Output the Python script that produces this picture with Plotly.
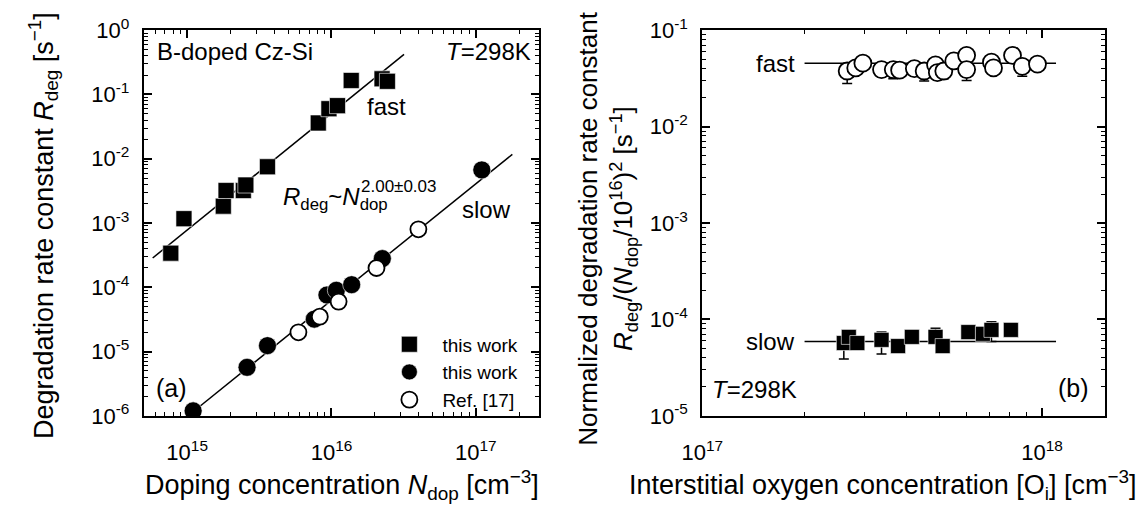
import numpy as np
import plotly.graph_objects as go

# ---- (a) degradation rate constant vs doping concentration ----
fast_ndop = [7.7e14, 9.5e14, 1.78e15, 1.86e15, 2.45e15, 2.55e15, 3.6e15,
             8.1e15, 9.6e15, 1.1e16, 1.37e16, 2.24e16, 2.44e16]
fast_rdeg = [3.4e-4, 1.17e-3, 1.83e-3, 3.2e-3, 3.2e-3, 3.9e-3, 7.5e-3,
             0.036, 0.060, 0.067, 0.165, 0.175, 0.160]

slow_ndop = [1.1e15, 2.6e15, 3.6e15, 7.6e15, 9.3e15, 1.08e16, 1.38e16, 2.25e16, 1.1e17]
slow_rdeg = [1.2e-6, 5.7e-6, 1.24e-5, 3.2e-5, 7.6e-5, 9.0e-5, 1.1e-4, 2.8e-4, 6.7e-3]

ref_ndop = [5.9e15, 8.3e15, 1.12e16, 2.05e16, 4.0e16]
ref_rdeg = [2.0e-5, 3.5e-5, 6.0e-5, 2.0e-4, 8.0e-4]

fast_fit_ndop = [5.77e14, 3.18e16]
fast_fit_rdeg = [2.86e-4, 0.42]
slow_fit_ndop = [1.1e15, 1.79e17]
slow_fit_rdeg = [1.16e-6, 1.17e-2]

# ---- (b) normalized rate constant vs interstitial oxygen ----
b_fast_oi = [2.67e17, 2.83e17, 2.97e17, 3.37e17, 3.65e17, 3.81e17, 4.21e17,
             4.50e17, 4.86e17, 4.92e17, 5.14e17, 5.50e17, 6.00e17, 6.00e17,
             7.10e17, 7.20e17, 8.19e17, 8.75e17, 9.70e17]
b_fast_val = [0.0377, 0.0406, 0.0455, 0.0390, 0.0390, 0.0385, 0.0400,
              0.0377, 0.0437, 0.0363, 0.0377, 0.0480, 0.0548, 0.0390,
              0.0465, 0.0406, 0.0548, 0.0422, 0.0445]
b_fast_low = [0.0279, 0.0406, 0.0455, 0.0390, 0.0313, 0.0385, 0.0400,
              0.0297, 0.0437, 0.0363, 0.0313, 0.0480, 0.0548, 0.0301,
              0.0465, 0.0406, 0.0548, 0.0332, 0.0445]
b_fast_high = [0.0377, 0.0406, 0.0455, 0.0390, 0.0448, 0.0385, 0.0400,
               0.0377, 0.0437, 0.0363, 0.0460, 0.0480, 0.0548, 0.0390,
               0.0465, 0.0406, 0.0548, 0.0422, 0.0445]

b_slow_oi = [2.61e17, 2.70e17, 2.86e17, 3.37e17, 3.77e17, 4.14e17,
             4.86e17, 5.10e17, 6.07e17, 6.70e17, 7.10e17, 8.10e17]
b_slow_val = [5.7e-5, 6.6e-5, 5.7e-5, 6.15e-5, 5.3e-5, 6.6e-5,
              6.6e-5, 5.3e-5, 7.4e-5, 7.1e-5, 7.8e-5, 7.8e-5]
b_slow_low = [3.9e-5, 6.6e-5, 5.7e-5, 4.4e-5, 5.3e-5, 6.6e-5,
              6.6e-5, 4.9e-5, 7.4e-5, 7.1e-5, 5.9e-5, 7.8e-5]
b_slow_high = [5.7e-5, 6.6e-5, 5.7e-5, 7.4e-5, 5.3e-5, 6.6e-5,
               8.1e-5, 5.3e-5, 7.4e-5, 7.1e-5, 9.5e-5, 7.8e-5]

b_fit_oi = [2.0e17, 1.1e18]
b_fast_level = [0.0455, 0.0455]
b_slow_level = [5.93e-5, 5.93e-5]

FONT = "Liberation Sans, Arial, sans-serif"
BLACK = "black"

fig = go.Figure()

# panel (a)
for fx, fy in ((fast_fit_ndop, fast_fit_rdeg), (slow_fit_ndop, slow_fit_rdeg)):
    fig.add_trace(go.Scatter(x=fx, y=fy, mode="lines", line=dict(color=BLACK, width=1.5),
                             showlegend=False, hoverinfo="skip", xaxis="x", yaxis="y"))
fig.add_trace(go.Scatter(x=fast_ndop, y=fast_rdeg, mode="markers", name="this work",
                         marker=dict(symbol="square", size=16, color=BLACK,
                                     line=dict(color="white", width=0.6)),
                         xaxis="x", yaxis="y"))
fig.add_trace(go.Scatter(x=slow_ndop, y=slow_rdeg, mode="markers", name="this work",
                         marker=dict(symbol="circle", size=18, color=BLACK,
                                     line=dict(color="white", width=0.6)),
                         xaxis="x", yaxis="y"))
fig.add_trace(go.Scatter(x=ref_ndop, y=ref_rdeg, mode="markers", name="Ref. [17]",
                         marker=dict(symbol="circle", size=16, color="white",
                                     line=dict(color=BLACK, width=1.8)),
                         xaxis="x", yaxis="y"))

# panel (b)
for lvl in (b_fast_level, b_slow_level):
    fig.add_trace(go.Scatter(x=b_fit_oi, y=lvl, mode="lines", line=dict(color=BLACK, width=1.5),
                             showlegend=False, hoverinfo="skip", xaxis="x2", yaxis="y2"))
fig.add_trace(go.Scatter(
    x=b_fast_oi, y=b_fast_val, mode="markers", showlegend=False,
    error_y=dict(type="data", symmetric=False,
                 array=list(np.array(b_fast_high) - np.array(b_fast_val)),
                 arrayminus=list(np.array(b_fast_val) - np.array(b_fast_low)),
                 color=BLACK, thickness=1.5, width=5),
    marker=dict(symbol="circle", size=17, color="white", line=dict(color=BLACK, width=1.8)),
    xaxis="x2", yaxis="y2"))
fig.add_trace(go.Scatter(
    x=b_slow_oi, y=b_slow_val, mode="markers", showlegend=False,
    error_y=dict(type="data", symmetric=False,
                 array=list(np.array(b_slow_high) - np.array(b_slow_val)),
                 arrayminus=list(np.array(b_slow_val) - np.array(b_slow_low)),
                 color=BLACK, thickness=1.5, width=5),
    marker=dict(symbol="square", size=15, color=BLACK, line=dict(color="white", width=0.6)),
    xaxis="x2", yaxis="y2"))


def log_ticks(lo, hi):
    vals = [10.0 ** e for e in range(lo, hi + 1)]
    text = [f"10<sup>{e}</sup>" for e in range(lo, hi + 1)]
    return vals, text


def axis_style(rng, tv, tt, domain, anchor, standoff):
    return dict(type="log", range=rng, domain=domain, anchor=anchor,
                tickvals=tv, ticktext=tt, ticks="inside", ticklen=8, tickwidth=1.5,
                tickcolor=BLACK, mirror="allticks", showline=True, linecolor=BLACK,
                linewidth=2, showgrid=False, zeroline=False, ticklabelstandoff=standoff,
                ticklabeloverflow="allow",
                tickfont=dict(family=FONT, size=22, color=BLACK),
                minor=dict(ticks="inside", ticklen=4, tickwidth=1.2, tickcolor=BLACK,
                           dtick="D1", showgrid=False))


W, H = 1148, 511
ax_l, ax_r = 125 / W, 528 / W
bx_l, bx_r = 694 / W, 1104 / W
y_b, y_t = 1 - 424 / H, 1 - 15 / H

xa_tv, xa_tt = log_ticks(15, 17)
ya_tv, ya_tt = log_ticks(-6, 0)
xb_tv, xb_tt = log_ticks(17, 18)
yb_tv, yb_tt = log_ticks(-5, -1)

fig.update_layout(
    width=W, height=H, margin=dict(l=0, r=0, t=0, b=0),
    plot_bgcolor="white", paper_bgcolor="white",
    font=dict(family=FONT, color=BLACK),
    xaxis=axis_style([14.699, 17.44], xa_tv, xa_tt, [ax_l, ax_r], "y", 16),
    yaxis=axis_style([-6, 0], ya_tv, ya_tt, [y_b, y_t], "x", 8),
    xaxis2=axis_style([17, 18.185], xb_tv, xb_tt, [bx_l, bx_r], "y2", 16),
    yaxis2=axis_style([-5, -1], yb_tv, yb_tt, [y_b, y_t], "x2", 8),
    legend=dict(x=362 / W, y=1 - 328 / H, xanchor="left", yanchor="top",
                bgcolor="rgba(0,0,0,0)", font=dict(family=FONT, size=19, color=BLACK),
                itemwidth=56, tracegroupgap=0),
)

ann = []


def txt(x, y, s, size=24, xanchor="center", yanchor="middle", angle=0):
    ann.append(dict(x=x / W, y=1 - y / H, xref="paper", yref="paper", text=s,
                    showarrow=False, xanchor=xanchor, yanchor=yanchor, textangle=angle,
                    font=dict(family=FONT, size=size, color=BLACK)))


# panel (a) labels
txt(136, 38, "B-doped Cz-Si", 24, xanchor="left")
txt(522, 38, "<i>T</i>=298K", 24, xanchor="right")
txt(372, 96, "fast", 24)
txt(474, 205, "slow", 24)
txt(265, 194, "<i>R</i><sub>deg</sub>~<i>N</i><sub>dop</sub>", 24, xanchor="left")
txt(344, 181, "2.00±0.03", 17, xanchor="left")
txt(135, 394, "(a)", 25, xanchor="left")
txt(23, 222, "Degradation rate constant <i>R</i><sub>deg</sub> [s<sup>−1</sup>]", 27, angle=-90)
txt(327, 497, "Doping concentration <i>N</i><sub>dop</sub> [cm<sup>−3</sup>]", 27)

# panel (b) labels
txt(790, 50, "fast", 24, xanchor="right")
txt(790, 345, "slow", 24, xanchor="right")
txt(702, 396, "<i>T</i>=298K", 24, xanchor="left")
txt(1090, 394, "(b)", 25, xanchor="right")
txt(578, 225, "Normalized degradation rate constant", 26, angle=-90)
txt(614, 225, "<i>R</i><sub>deg</sub>/(<i>N</i><sub>dop</sub>/10<sup>16</sup>)<sup>2</sup> [s<sup>−1</sup>]",
    26, angle=-90)
txt(878, 497, "Interstitial oxygen concentration [O<sub>i</sub>] [cm<sup>−3</sup>]", 27)

fig.update_layout(annotations=ann)

fig.write_html("out.html")
